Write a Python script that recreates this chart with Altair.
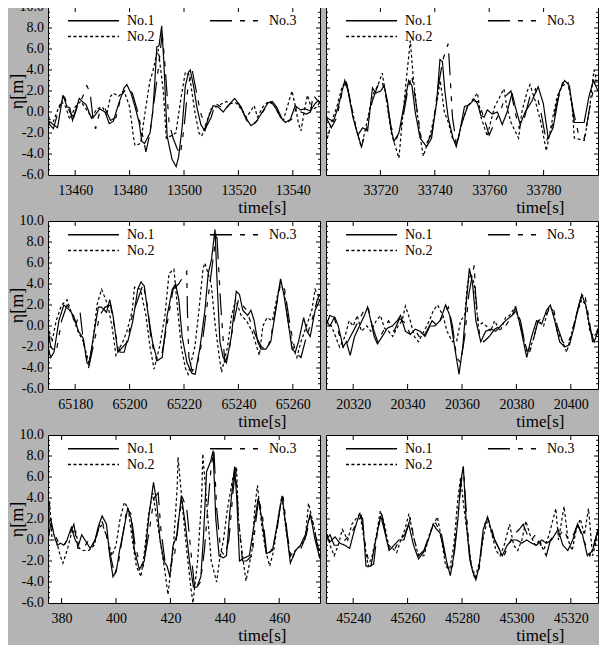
import math
import altair as alt
import pandas as pd

FONT = "Liberation Serif"
GRAY = "#b4b4b4"
SERIES = ["No.1", "No.2", "No.3"]
LEGEND_ORDER = ["No.1", "No.3", "No.2"]
DASH = {"No.1": [1, 0], "No.2": [3, 2.5], "No.3": [22, 8, 5, 8, 5, 8]}
STARTS = [13450, 33700, 65170, 20310, 375, 45230]
SPAN = 100
X_LABEL_STEP = 20
Y_LABELS = [-6, -4, -2, 0, 2, 4, 6, 8, 10]
Y_MINOR_STEP = 0.5

# (seconds after panel start, eta[m])
P1_NO1 = [(0,-0.8),(2,-1.2),(3.5,-1.5),(5.5,1.6),(7,0.5),(8,0.4),(9,-0.8),(11.5,1.3),(13,0.9),(14,0.7),(16,-0.6),(17,-0.4),(19,0.3),(21,0.0),(22.5,-1.1),(24,-0.9),(26,0.8),(28,2.3),(29,2.6),(30.5,1.8),(32,0.5),(33.5,-1.0),(34.5,-2.8),(35.5,-3.0),(37.5,-2.0),(38.5,0.0),(39.3,3.0),(40,6.2),(40.8,6.3),(41.8,8.2),(42.6,4.7),(43.8,-2.3),(45.6,-4.5),(47.1,-5.2),(48,-4.3),(49.3,-1.5),(50.5,2.5),(51.7,3.8),(52.3,4.0),(53.5,2.5),(54.7,0.5),(56.2,-1.2),(57.7,-1.8),(59,-0.5),(60.7,0.6),(62.5,0.5),(64.4,0.0),(66.2,0.6),(68.6,1.3),(70.4,0.7),(72.2,-0.3),(74.6,-1.3),(76.4,-1.0),(78.3,-0.2),(80.7,0.8),(81.9,1.0),(83.7,0.4),(85.5,-0.5),(87.3,-1.0),(89.1,-0.7),(90.9,0.6),(92.8,0.2),(94.6,0.3),(96.4,0.1),(98.2,0.8),(99.4,1.1),(100,0.8)]
P1_NO2 = [(0,-0.6),(2,-0.9),(4,0.5),(5,1.0),(6.5,0.5),(8,-0.7),(10,0.5),(12,1.0),(14,0.3),(16,-0.5),(18,0.3),(20,0.5),(21.5,-0.3),(23,1.5),(24,1.8),(26,1.5),(28,2.0),(30,0.5),(31.5,-2.5),(32,-3.2),(34,-3.0),(36,0.5),(37.5,3.0),(38.5,3.8),(39.5,5.0),(40.5,6.0),(42.4,2.0),(43.5,-2.5),(45,-2.3),(47,-2.0),(49,1.5),(50.5,3.8),(52,3.5),(54,0.0),(55.5,-2.0),(56.5,-2.3),(58,-1.2),(60,0.3),(62,0.5),(64,0.8),(65.6,1.0),(67,0.8),(69,0.9),(71,0.3),(73,-0.5),(75.8,0.6),(77,-0.5),(79,0.5),(81,1.0),(83,0.7),(85,-0.3),(86.5,-0.8),(88,0.5),(89.7,2.0),(91,0.5),(92,-1.0),(93,-1.8),(94.5,0.5),(95.4,1.6),(97,0.2),(99,0.5),(100,1.0)]
P1_NO3 = [(0,-1.0),(2,-1.6),(4,0.3),(6,1.5),(8,0.0),(9.5,-0.5),(11,0.7),(12.5,1.3),(14.3,2.5),(15.5,1.8),(16.5,-0.5),(17.5,-1.6),(19,0.0),(21,0.3),(23,-0.8),(25,-0.5),(27,1.6),(29,2.3),(31,1.8),(33,0.0),(35,-2.5),(36,-3.8),(37.5,-2.0),(39,1.0),(40.5,4.0),(42,7.5),(43,4.5),(44.5,-1.0),(46,-2.5),(47.5,-3.5),(48.7,-4.0),(50,-1.5),(51.5,2.5),(53,4.0),(54.5,2.0),(56,0.0),(58,-1.5),(60,-0.5),(61.5,0.8),(63.5,0.5),(65,0.2),(67,0.8),(69,1.0),(71,0.5),(73,-0.8),(75,-1.2),(77,-0.8),(79,0.0),(81,0.8),(82.5,1.0),(84,0.5),(86,-0.6),(88,-1.0),(90,-0.6),(91.5,0.6),(93,0.0),(95,-0.2),(96.5,0.0),(97.5,1.6),(100,0.8)]

P2_NO1 = [(0,-0.5),(2.7,-0.9),(4.5,0.5),(6.9,3.0),(8.1,2.0),(9.9,-0.5),(11.7,-2.2),(13.5,-1.5),(15.3,-1.8),(17.1,2.3),(18.3,1.8),(20.1,2.0),(21.4,2.5),(22.6,1.0),(23.8,-1.5),(25,-2.8),(26.8,-2.0),(28.6,0.5),(30.4,3.0),(31.6,2.5),(32.8,0.0),(34.6,-2.5),(37,-3.3),(38.8,-2.5),(40.7,1.0),(41.9,5.0),(42.8,4.8),(43.7,2.0),(44.9,-0.5),(46.7,-2.5),(47.9,-3.3),(49.1,-2.0),(50.9,0.5),(52.7,0.7),(54.5,1.2),(55.7,0.8),(56.9,-0.3),(58.1,-0.5),(59.3,0.2),(61.2,-0.2),(63,0.0),(64.8,-1.2),(66.6,0.0),(68.4,1.8),(69.6,0.5),(71.4,-1.2),(73.2,0.0),(75.6,1.0),(78,2.4),(79.9,0.8),(81.7,-2.5),(83.5,-1.5),(85.9,2.0),(87.7,3.0),(89.5,2.5),(91.3,-1.0),(93.1,-1.0),(94.9,-1.0),(96.7,1.5),(98.3,3.0),(100,2.0)]
P2_NO2 = [(0,-3.0),(2,-1.0),(4,0.5),(6,2.5),(7.5,2.8),(9,1.0),(11,-1.5),(13,-3.4),(15,-1.0),(17,1.5),(19,2.5),(20.7,3.7),(22,1.5),(24,-2.0),(26.8,-4.4),(28,-1.0),(29.5,3.0),(31,6.8),(32,3.5),(33.5,0.0),(35,-3.0),(35.8,-4.2),(38.5,-2.0),(40.5,0.5),(42,3.0),(43.5,0.0),(45,-1.0),(46.5,-2.5),(48,-3.0),(50,-1.0),(52,0.5),(54,1.2),(55.7,1.8),(57,-0.5),(59.3,-2.3),(60.5,-1.0),(62,0.5),(64,1.5),(65.4,2.2),(66.5,0.5),(68,-1.0),(70.8,-2.5),(72,0.0),(74,2.0),(75,2.6),(77,1.0),(79,-1.0),(81,-3.7),(83,-1.0),(85,1.5),(87,2.5),(89,2.8),(90.5,0.5),(91.3,-2.5),(95,-2.7),(97,0.5),(98.5,4.0),(100,2.5)]
P2_NO3 = [(0,-0.5),(2,-1.5),(4,-0.5),(6,2.0),(7.5,2.8),(9,1.0),(11,-1.5),(13,-3.3),(15,-1.5),(17,1.0),(19,2.5),(20.5,3.0),(22,1.5),(24,-1.5),(26,-2.5),(28,-1.0),(30,2.0),(31.5,3.5),(33,1.0),(35,-2.5),(37,-3.0),(39,-2.0),(41,2.0),(43,5.0),(44.9,6.5),(45.5,4.0),(46.5,-0.5),(48,-3.2),(50,-1.0),(52,0.5),(54,1.0),(56,1.0),(58,-0.5),(60,-2.2),(62,-1.0),(64,0.0),(66,1.5),(68,2.0),(69.5,0.0),(71,-1.5),(73,-0.5),(75,1.5),(77,2.2),(79,0.0),(81,-2.8),(83,-1.5),(85,1.0),(87,2.8),(89,2.8),(91,0.0),(93,-2.3),(95,-2.5),(97,0.5),(99,3.0),(100,2.5)]

P3_NO1 = [(0,-2.0),(1,-3.0),(2.2,-2.5),(4,0.5),(5.8,2.0),(7.6,1.6),(9.4,1.0),(11.2,-0.5),(13,-1.2),(14.3,-3.5),(15.1,-3.7),(16.7,-1.0),(18.5,1.8),(19.7,1.8),(21.5,1.3),(22.7,2.5),(23.9,1.0),(25.7,-2.5),(27.5,-2.0),(29.3,-1.5),(31.2,0.5),(33,3.5),(34.2,4.2),(35.4,3.8),(36.6,1.5),(38.4,-1.5),(40.2,-3.3),(42,-3.0),(43.8,1.0),(45.7,3.5),(46.9,4.0),(48.1,2.5),(49.3,-1.0),(51.1,-3.5),(52.9,-4.5),(54.1,-4.6),(55.9,-2.0),(57.7,1.5),(58.9,5.0),(60.1,6.3),(61.4,9.2),(62.2,4.0),(63.2,-1.5),(64.4,-3.0),(65.6,-3.5),(67.4,-1.0),(69.2,3.3),(70.4,3.0),(71.6,1.5),(73.4,1.0),(74.6,1.5),(75.8,0.5),(77.1,-1.5),(78.3,-2.2),(80.1,-2.2),(81.9,-1.5),(83.7,1.5),(85.5,4.5),(86.7,3.0),(88.5,0.0),(89.7,-2.2),(90.9,-2.5),(92.1,-1.5),(94,0.8),(95.2,-0.5),(96.4,-1.0),(98.2,1.5),(100,2.5)]
P3_NO2 = [(0,0.0),(1.5,-1.5),(3,0.5),(5,2.0),(7,2.5),(9,1.0),(11,-0.5),(13,-1.5),(15,-3.5),(16.5,-1.5),(18,2.0),(19.7,3.5),(22,2.0),(23.5,0.0),(25,-2.8),(27.5,-1.5),(29,-0.5),(31,1.5),(31.8,3.7),(34,3.5),(36,1.0),(37.5,-2.0),(39,-4.1),(41,-2.0),(43,1.0),(44.5,5.0),(46.3,5.4),(47.5,2.0),(49,-2.0),(50.5,-4.0),(51.5,-4.6),(54,-2.0),(55.5,1.5),(57,5.5),(57.7,6.0),(60,4.0),(61.5,0.0),(63,-3.0),(63.8,-4.4),(66,-2.0),(67.5,1.0),(69,2.5),(71,1.0),(73,0.5),(75,-0.5),(77.7,-2.8),(79,0.0),(80.5,0.8),(82.5,0.5),(84,2.5),(85.5,4.2),(87,3.0),(88.5,0.0),(90,-2.0),(91.5,-3.0),(93,-1.5),(95,0.0),(97,1.5),(98.2,3.5),(100,2.5)]
P3_NO3 = [(0,-0.3),(1,-2.0),(3,-2.5),(5,0.5),(7,2.0),(8.5,1.5),(10,0.0),(11.8,1.3),(13,-1.5),(14.9,-4.0),(17,-1.5),(19,1.0),(21,1.8),(23,2.0),(25,-1.0),(26.5,-2.5),(28,-2.5),(29.5,-1.0),(31,1.0),(33,2.5),(35,4.0),(36.5,2.0),(38,-1.5),(40,-3.3),(42,-2.5),(44,0.5),(46,3.5),(48,4.0),(51,5.2),(51.3,1.0),(51.8,-3.0),(53,-4.3),(55,-3.5),(57,-1.0),(59,3.0),(60.5,6.0),(62,9.0),(63.5,2.0),(65,-3.5),(66.5,-2.5),(68,0.0),(70,2.5),(71.5,2.0),(73,1.5),(75,0.0),(76.5,-1.0),(78.5,-2.0),(80.5,-2.3),(82,-1.0),(84,2.0),(85.5,4.0),(87,3.5),(89,0.0),(91,-2.5),(93,-3.0),(95,-1.0),(97,0.5),(99,2.5),(100,3.0)]

P4_NO1 = [(0,0.0),(1.4,1.0),(3.3,0.8),(4.5,0.0),(6.3,-2.0),(7.5,-1.5),(8.9,-2.8),(10.5,-1.0),(12.3,0.0),(14.1,1.0),(15.3,1.8),(16.5,0.5),(17.7,-1.0),(18.9,-1.7),(20.7,-1.0),(22.6,-0.2),(24.4,0.0),(26.2,0.5),(27.4,1.0),(29.2,-0.5),(31,-0.8),(32.8,-0.3),(34.6,-0.5),(36.4,-1.0),(38.2,0.0),(40,0.0),(41.9,0.5),(44,2.0),(45.5,1.0),(47.3,-2.0),(48.9,-4.6),(50.3,-2.0),(51.5,2.0),(52.7,5.5),(53.9,4.0),(55.1,0.5),(56.9,-1.5),(58.7,-0.5),(60.6,-0.3),(62.4,-0.5),(64.2,0.0),(66,0.5),(68.4,1.0),(69.8,1.8),(71.4,0.0),(72.6,-1.5),(73.8,-3.0),(75.6,-1.0),(77.4,0.5),(79.3,0.2),(81.1,1.5),(82.5,2.0),(84.1,0.5),(85.9,-1.5),(87.7,-2.0),(89.5,-1.8),(91.3,0.0),(92.5,1.5),(94,3.0),(95.5,2.0),(97.3,-0.5),(98.6,-1.5),(100,-0.5)]
P4_NO2 = [(0,0.5),(2,0.0),(3.5,-1.0),(5,-2.0),(7,-1.0),(8.5,0.5),(10,0.0),(11.5,1.0),(13,-0.5),(15,0.0),(16.5,-0.5),(18.5,0.5),(20,1.0),(21.5,-0.2),(23,-0.5),(24.5,-1.0),(26.5,0.0),(28,0.5),(29.2,1.9),(31,0.5),(32.5,-1.0),(34,-1.5),(36,-0.5),(38,0.5),(39.5,1.5),(41,2.0),(43,1.0),(44.5,-0.5),(46.5,-1.5),(48,-1.5),(49.5,0.5),(51,1.0),(52,4.0),(53.3,5.0),(54.5,4.0),(56,0.0),(57.5,0.3),(59,0.0),(60.5,-0.5),(62,0.5),(64,-0.5),(66,0.8),(67.5,1.0),(69.5,1.8),(71,0.5),(72.5,-1.0),(74,-2.5),(76,-1.5),(78,0.5),(80,0.0),(82,1.8),(83.5,1.5),(85,-0.5),(87,-1.5),(88.5,-2.5),(90,-1.0),(92,1.0),(94,2.5),(95.5,2.0),(97,-0.5),(98.5,-1.0),(100,-0.5)]
P4_NO3 = [(0,0.5),(1.5,0.0),(3,0.8),(4.5,-0.5),(6.5,-2.2),(8,-1.5),(10,-0.5),(12,0.5),(14,1.5),(15.5,1.8),(17,0.0),(19,-1.5),(21,-0.5),(23,0.5),(25,-0.5),(27,0.7),(29,0.3),(31,-0.8),(33,-0.5),(35,-1.3),(37,-0.5),(39,0.5),(41,0.0),(43,1.0),(45,1.8),(46.5,0.0),(48,-3.0),(49.5,-3.5),(51,-1.0),(52.5,3.0),(54.5,5.8),(55,3.0),(56.5,-1.0),(58,-1.5),(60,-1.0),(62,-0.3),(64,0.0),(66,0.0),(68,0.8),(70,1.5),(71.5,0.5),(73,-1.5),(74.5,-2.8),(76,-1.5),(78,0.5),(80,0.8),(82,1.5),(83.5,1.8),(85,0.0),(87,-1.5),(88.5,-1.8),(90,-1.0),(92,1.0),(93.5,2.5),(95,3.2),(96.5,1.0),(98,-1.5),(99,-1.5),(100,0.0)]

P5_NO1 = [(0,1.5),(1,2.0),(2.2,0.5),(3.4,-0.5),(4.6,-0.3),(5.8,-0.5),(7,0.0),(8.6,1.2),(10,0.0),(11.2,-0.5),(12.4,0.5),(13.6,0.0),(15.5,-0.8),(17.3,0.0),(18.5,1.3),(19.9,2.3),(21.5,1.5),(22.7,-1.5),(23.9,-3.5),(25.1,-3.0),(26.3,-1.0),(27.5,0.5),(29.3,3.0),(30.6,2.0),(31.8,-1.0),(33.6,-2.8),(35.4,-2.0),(37.2,2.5),(38.8,5.5),(40,3.5),(41.2,0.0),(42.6,-2.0),(43.8,-2.5),(44.8,-3.5),(46,-0.5),(47.5,0.5),(49,4.2),(50.5,1.5),(52,-2.0),(53.5,-4.5),(54.7,-4.5),(56.2,-3.5),(57.1,0.0),(58.3,6.5),(59.8,7.5),(60.7,8.5),(61.7,2.0),(62.9,-1.5),(64.4,-1.7),(65.6,-1.5),(66.8,2.5),(68.6,7.0),(69.4,4.0),(70.4,-2.0),(72.2,-1.7),(74,-1.5),(75.8,1.5),(77.3,4.0),(78.9,1.5),(80.3,-1.3),(82.5,-1.0),(84.3,1.5),(86.1,4.2),(87.6,1.0),(89.1,-2.2),(91,-1.0),(92.8,-0.5),(94.6,0.5),(96.4,2.5),(98.2,0.0),(100,-1.8)]
P5_NO2 = [(0,-0.5),(0.6,3.7),(1.5,0.0),(3,0.0),(4.5,-1.5),(5.5,-2.2),(7,-1.0),(8.5,0.5),(10,1.0),(11.5,-0.8),(13,-1.0),(15,-1.0),(17,-0.5),(18.5,1.0),(20,1.5),(22,0.0),(23.5,-1.5),(25,-0.5),(26.5,2.0),(28.1,3.6),(29.5,3.0),(31,0.0),(32.5,-2.5),(34.2,-3.5),(35.5,-1.0),(37,2.5),(38.5,4.5),(40,2.0),(41.5,-0.5),(43,-3.0),(44.1,-5.2),(46,-1.0),(47.5,5.0),(47.8,7.9),(49.5,3.0),(51,-1.0),(52.5,-4.5),(53.3,-6.0),(55,-2.0),(56.5,4.0),(56.9,8.2),(58.5,3.0),(60,-2.0),(62,-4.0),(63,-2.0),(64.5,0.0),(66,3.0),(68,6.0),(69.3,7.0),(70,2.0),(71.5,-1.5),(72.8,-3.9),(75,-1.0),(76,3.0),(77,5.2),(78.5,1.5),(80,-1.0),(81.5,-2.5),(83,-1.0),(84.5,2.0),(86,4.2),(87.5,1.0),(89,-1.5),(91,-1.0),(93,-0.5),(94.5,0.0),(95.8,3.5),(98,1.0),(100,-1.5)]
P5_NO3 = [(0,0.0),(1,1.5),(2.5,0.5),(4,-0.3),(6,-0.5),(8,0.5),(9.5,1.5),(11,-0.8),(13,-0.8),(15,0.0),(16.5,-0.5),(18,0.5),(19.5,2.0),(21,1.0),(23,-1.5),(24.5,-3.3),(26,-2.0),(27.5,0.5),(29,3.0),(30.5,2.5),(32,-0.5),(33.5,-2.0),(35,-2.5),(37,0.5),(39,4.0),(40.5,4.5),(41.5,1.0),(43,-2.0),(45,-2.5),(46.5,-1.5),(48,2.0),(49.5,4.0),(51,3.0),(52.5,-1.0),(54,-4.8),(56,-4.0),(57.5,-1.0),(59,4.0),(60,7.0),(61,8.5),(62,3.0),(63.5,-1.0),(65,-1.5),(66.5,0.0),(68,4.5),(69,7.0),(70,2.0),(71.5,-2.0),(73,-2.0),(75,-1.5),(76.5,2.0),(77.5,4.0),(79,2.0),(80.5,-1.5),(82,-1.0),(84,0.5),(85.5,3.5),(86.5,4.0),(88,0.5),(89.5,-2.0),(91,-1.0),(93,-0.8),(95,0.5),(96.5,2.5),(98,1.0),(99,-0.5),(100,-1.0)]

P6_NO1 = [(0,0.5),(1.4,-0.2),(3.3,0.3),(5.1,-0.3),(6.9,-0.5),(8.7,-0.8),(10.5,1.0),(12.3,2.5),(13.5,2.0),(14.7,-2.5),(16.5,-2.5),(18.3,0.0),(20.1,2.3),(21.4,1.0),(23.2,-1.0),(25,-0.5),(26.8,0.0),(28.6,0.0),(30.4,1.5),(32.2,-0.5),(34,-1.8),(35.8,-1.2),(37.6,0.0),(39.4,1.5),(40.7,1.0),(42.5,0.5),(44.3,-2.0),(45.7,-3.4),(47.3,-1.0),(48.5,2.0),(49.5,5.5),(50.5,7.0),(51.5,2.0),(52.7,-1.5),(53.9,-3.0),(55.1,-3.8),(56.3,-2.5),(57.8,1.0),(59.4,2.2),(61.2,0.5),(63,-0.5),(64.8,-1.5),(66.6,-0.5),(68.4,0.0),(70.2,0.0),(72,-0.3),(73.8,0.0),(75.6,-0.3),(77.4,-0.5),(79.3,0.0),(81.1,-0.3),(82.9,0.0),(85.3,1.0),(87.1,-0.5),(88.9,-1.0),(90.7,0.0),(92.5,1.5),(94.3,0.5),(96.1,-1.5),(98,-1.0),(100,1.0)]
P6_NO2 = [(0,1.0),(1.5,-0.5),(3,-1.5),(4.5,-0.5),(6,1.0),(8,0.0),(9.5,1.5),(11,2.0),(12.5,2.5),(14,0.0),(15.5,-2.5),(17,-1.5),(18.5,0.5),(20,2.8),(21.5,1.5),(23,-0.5),(24.5,-0.8),(26,-1.2),(27.5,0.0),(29,1.0),(30.5,2.5),(32,0.5),(34,-1.5),(36,-1.5),(38,0.5),(39.5,1.5),(41,2.2),(42.5,0.0),(44,-2.5),(45.5,-2.8),(47,-0.5),(48.5,4.0),(49.5,6.0),(50.5,3.5),(52,0.5),(53.5,-2.5),(55,-3.5),(56.5,-2.0),(58,0.5),(59.5,2.0),(61,0.5),(62.5,-1.0),(64,-1.5),(65.5,-0.5),(67.5,1.5),(69,-0.5),(70.5,-1.0),(72,0.0),(73.5,1.8),(75,0.5),(77,-0.5),(78.5,0.0),(80,-1.0),(82,0.5),(84.5,3.0),(85.5,0.0),(87.5,3.2),(89,0.0),(90.5,-1.0),(92,1.0),(93.5,2.0),(95,0.5),(96.5,3.0),(98,-1.5),(99,-0.5),(100,1.0)]
P6_NO3 = [(0,0.0),(1.5,0.5),(3,-0.5),(5,-0.5),(7,0.0),(9,0.5),(11,1.5),(13,2.3),(14.5,-0.5),(16,-2.5),(17.5,-2.3),(19,1.0),(20.5,2.5),(22,0.5),(23.5,-1.0),(25,-1.0),(27,0.0),(29,0.5),(31,2.0),(32.5,0.0),(34,-1.5),(36,-1.0),(38,0.5),(40,1.8),(41.5,1.0),(43,-0.5),(45,-3.0),(46.5,-2.5),(48,1.0),(49.5,5.0),(50.5,7.0),(51.5,3.0),(53,-2.0),(54.5,-3.5),(56,-3.5),(57.5,0.0),(59,2.3),(60.5,1.5),(62,0.0),(64,-1.0),(65.5,-1.5),(67,-0.5),(69,0.5),(71,1.0),(72.5,1.5),(74,0.5),(75.5,0.0),(77,0.5),(79,-0.5),(81,-1.5),(82.5,0.0),(84,0.5),(86,0.5),(87.5,1.0),(89,0.0),(91,0.5),(92.5,1.5),(94,0.5),(95.5,-0.5),(97,-1.5),(98.5,-0.5),(100,1.0)]

PANELS = [
    (P1_NO1, P1_NO2, P1_NO3),
    (P2_NO1, P2_NO2, P2_NO3),
    (P3_NO1, P3_NO2, P3_NO3),
    (P4_NO1, P4_NO2, P4_NO3),
    (P5_NO1, P5_NO2, P5_NO3),
    (P6_NO1, P6_NO2, P6_NO3),
]

W, H = 272, 168
ROW_GAP, COL_GAP = 46, 6
SVG_W, SVG_H = 591, 640
PAD_LEFT, PAD_TOP = 40, -1


def panel(i, left):
    x0 = STARTS[i]
    x1 = x0 + SPAN
    rows = []
    for name, pts in zip(SERIES, PANELS[i]):
        for k, (dt, v) in enumerate(pts):
            rows.append({"t": x0 + dt, "eta": v, "series": name, "k": k})
    df = pd.DataFrame(rows)

    xs = alt.Scale(domain=[x0, x1], nice=False, zero=False)
    ys = alt.Scale(domain=[-6, 10], nice=False, zero=False)

    first = int(math.ceil(x0 / X_LABEL_STEP) * X_LABEL_STEP)
    xlabels = [v for v in range(first, x1, X_LABEL_STEP) if x0 < v < x1]

    xaxis = alt.Axis(values=xlabels, format="d", ticks=False, domain=False, grid=False,
                     labelPadding=8, labelFontSize=14, labelFlush=False, labelOverlap=False,
                     titleFontSize=17, titleFontWeight="normal", titleX=238, titleY=37,
                     titleAlign="right", titleBaseline="alphabetic")
    if left:
        yaxis = alt.Axis(values=Y_LABELS, labels=False, ticks=False, domain=False, grid=False,
                         titleFontSize=18, titleFontWeight="normal", titleX=-31, titleY=H / 2,
                         titleAlign="center", titleBaseline="middle")
        ytitle = "η[m]"
    else:
        yaxis = alt.Axis(values=Y_LABELS, labels=False, ticks=False, domain=False, grid=False)
        ytitle = None

    legend = alt.Legend(orient="none", legendX=38, legendY=6, direction="horizontal", columns=2,
                        title=None, symbolType="M-4,0H4", symbolSize=163, symbolStrokeWidth=1.3,
                        symbolStrokeColor="black", labelFont=FONT, labelFontSize=14,
                        labelColor="black", labelOffset=26, columnPadding=52, rowPadding=1,
                        padding=0)

    lines = alt.Chart(df).mark_line(color="black", strokeWidth=1.2, clip=True).encode(
        x=alt.X("t:Q", scale=xs, axis=xaxis, title="time[s]"),
        y=alt.Y("eta:Q", scale=ys, axis=yaxis, title=ytitle),
        strokeDash=alt.StrokeDash("series:N",
                                  scale=alt.Scale(domain=LEGEND_ORDER, range=[DASH[s] for s in LEGEND_ORDER]),
                                  legend=legend),
        order="k:Q",
    )

    yvals = [-6 + Y_MINOR_STEP * j for j in range(int(16 / Y_MINOR_STEP) + 1)]
    ymaj = pd.DataFrame({"eta": [v for v in yvals if v % 2 == 0 and -6 < v < 10]})
    ymin = pd.DataFrame({"eta": [v for v in yvals if v % 2 != 0]})
    xt = pd.DataFrame({"t": xlabels})

    def yrule(d, at, off):
        return alt.Chart(d).mark_rule(color="black", strokeWidth=1, x2Offset=off).encode(
            x=alt.datum(at), x2=alt.datum(at), y=alt.Y("eta:Q"))

    def xrule(d, at, off):
        return alt.Chart(d).mark_rule(color="black", strokeWidth=1, y2Offset=off).encode(
            y=alt.datum(at), y2=alt.datum(at), x=alt.X("t:Q"))

    layers = [
        lines,
        yrule(ymaj, x0, 4), yrule(ymaj, x1, -4),
        yrule(ymin, x0, 2), yrule(ymin, x1, -2),
        xrule(xt, -6, -5), xrule(xt, 10, 5),
    ]
    if left:
        ylab = pd.DataFrame({"eta": Y_LABELS, "lab": [f"{v:.1f}" for v in Y_LABELS]})
        layers.append(
            alt.Chart(ylab).mark_text(align="right", baseline="middle", dx=-4, fontSize=14,
                                      font=FONT, color="black").encode(
                x=alt.datum(x0), y=alt.Y("eta:Q"), text="lab:N")
        )
    return alt.layer(*layers).properties(width=W, height=H)


panels = [panel(i, i % 2 == 0) for i in range(6)]

chart = alt.concat(*panels, columns=2, spacing={"row": ROW_GAP, "column": COL_GAP}, bounds="flush").resolve_scale(
    x="independent", y="independent", strokeDash="independent"
).properties(
    autosize=alt.AutoSizeParams(type="none"),
    padding={"left": PAD_LEFT, "top": PAD_TOP, "right": SVG_W - PAD_LEFT, "bottom": SVG_H - PAD_TOP},
).configure(
    background=GRAY, font=FONT
).configure_view(
    fill="white", stroke="black", strokeWidth=1
).configure_axis(
    labelFont=FONT, titleFont=FONT, labelColor="black", titleColor="black", labelOverlap=False,
    grid=False
)

chart.save("out.html", embed_options={"renderer": "svg", "actions": False})
